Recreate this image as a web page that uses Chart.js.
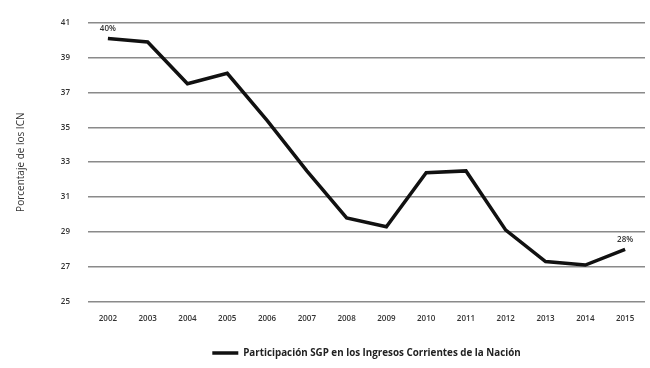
<!DOCTYPE html>
<html>
<head>
<meta charset="utf-8">
<script src="https://cdn.jsdelivr.net/npm/chart.js@4/dist/chart.umd.min.js"></script>
<style>
  html, body { margin: 0; padding: 0; background: #fff; }
  #wrap { width: 650px; height: 368px; }
</style>
</head>
<body>
<div id="wrap"><canvas id="grafico"></canvas></div>
<script>
// datos del gráfico
const years = ['2002', '2003', '2004', '2005', '2006', '2007', '2008', '2009', '2010', '2011', '2012', '2013', '2014', '2015'];
const sgpValues = [40.1, 39.9, 37.5, 38.1, 35.4, 32.5, 29.8, 29.3, 32.4, 32.5, 29.1, 27.3, 27.1, 28.0];
const yTicks = [25, 27, 29, 31, 33, 35, 37, 39, 41];
const pointLabels = { 0: '40%', 13: '28%' };
const seriesName = 'Participación SGP en los Ingresos Corrientes de la Nación';

const fontFamily = '"Open Sans", Lato, sans-serif';

// etiquetas de los valores (primer y último punto)
const labelPlugin = {
  id: 'labelPlugin',
  afterDatasetsDraw(chart) {
    const ctx = chart.ctx;
    const meta = chart.getDatasetMeta(0);
    ctx.save();
    ctx.font = '600 8px ' + fontFamily;
    ctx.fillStyle = '#333';
    ctx.textAlign = 'center';
    ctx.textBaseline = 'bottom';
    Object.keys(pointLabels).forEach((i) => {
      const p = meta.data[i];
      ctx.fillText(pointLabels[i], p.x, p.y - 6);
    });
    ctx.restore();
  }
};

new Chart(document.getElementById('grafico'), {
  type: 'line',
  data: {
    labels: years,
    datasets: [{
      label: seriesName,
      data: sgpValues,
      borderColor: '#111',
      backgroundColor: '#111',
      borderWidth: 3.5,
      pointRadius: 0,
      pointStyle: 'line',
      tension: 0
    }]
  },
  options: {
    responsive: true,
    maintainAspectRatio: false,
    animation: false,
    layout: {
      padding: { top: 17, right: 5, left: 0, bottom: 0 }
    },
    plugins: {
      tooltip: { enabled: false },
      legend: {
        position: 'bottom',
        fullSize: false, // centrada sobre el área del gráfico
        labels: {
          usePointStyle: true,
          pointStyle: 'line',
          pointStyleWidth: 26,
          color: '#222',
          padding: 8,
          font: { family: fontFamily, size: 9.8, weight: 'bold' }
        }
      }
    },
    scales: {
      x: {
        offset: true,
        grid: { display: false },
        border: { display: false },
        afterFit(scale) {
          scale.height = scale.height + 13; // espacio extra antes de la leyenda
        },
        ticks: {
          color: '#333',
          padding: 4,
          maxRotation: 0,
          font: { family: fontFamily, size: 8, weight: '600' }
        }
      },
      y: {
        min: 25,
        max: 41,
        afterBuildTicks(scale) {
          scale.ticks = yTicks.map((v) => ({ value: v }));
        },
        afterFit(scale) {
          scale.width = 88;
        },
        grid: { color: '#8a8a8a', lineWidth: 1.5, drawTicks: false },
        border: { display: false },
        ticks: {
          color: '#333',
          padding: 18,
          font: { family: fontFamily, size: 8, weight: '600' }
        },
        title: {
          display: true,
          text: 'Porcentaje de los ICN',
          color: '#333',
          padding: { top: 15, bottom: 0 },
          font: { family: fontFamily, size: 10 }
        }
      }
    }
  },
  plugins: [labelPlugin]
});
</script>
</body>
</html>
